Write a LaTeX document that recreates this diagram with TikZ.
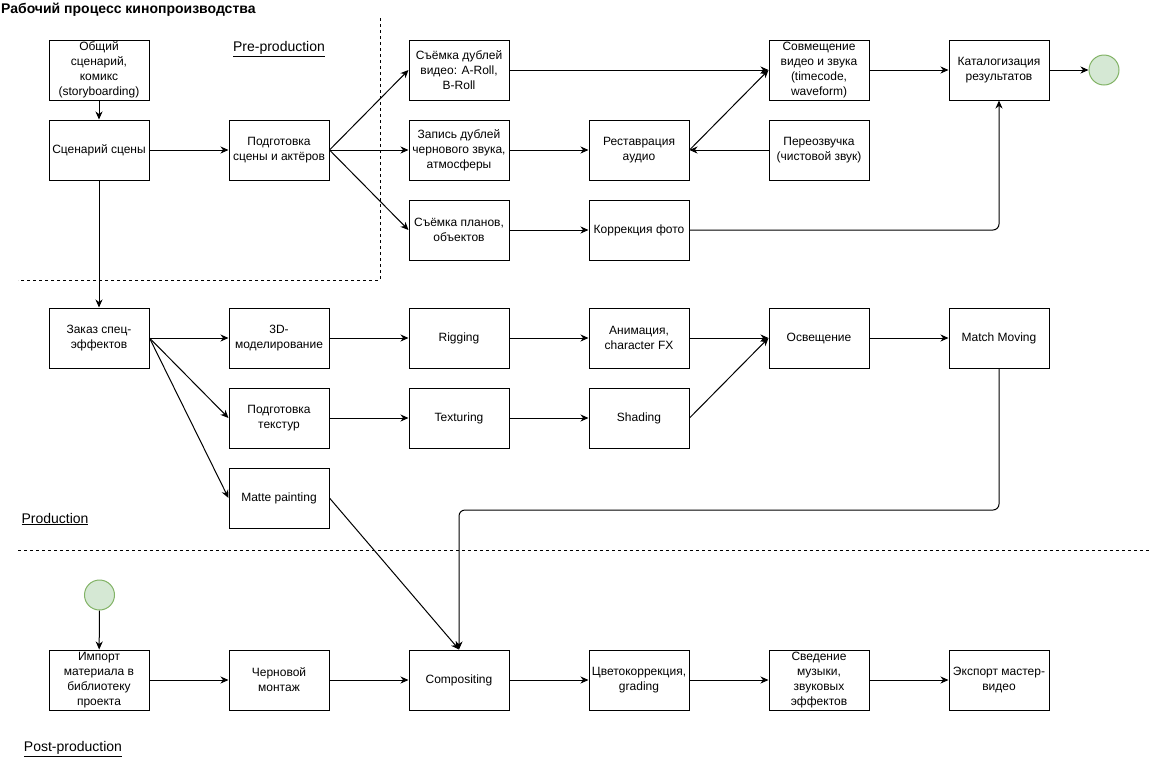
\documentclass[tikz,border=0pt]{standalone}
\usepackage{fontspec}
\setmainfont{Liberation Sans}
\usetikzlibrary{arrows.meta}
\begin{document}
\begin{tikzpicture}[x=1pt,y=-1pt,
  box/.style={draw=black, line width=1pt, minimum width=100pt, minimum height=60pt, inner sep=0pt, align=center, font=\fontsize{12}{15}\selectfont},
  term/.style={circle, draw={rgb,255:red,130;green,179;blue,102}, fill={rgb,255:red,213;green,232;blue,212}, line width=1pt, minimum size=30pt, inner sep=0pt},
  arr/.style={draw=black, line width=1pt, -{Stealth[length=8pt,width=7pt,inset=2.5pt]}},
  sep/.style={draw=black, line width=1pt, dash pattern=on 3pt off 3pt},
  lbl/.style={inner sep=0pt, font=\fontsize{14}{16}\selectfont},
  ttl/.style={inner sep=0pt, anchor=west, font=\fontsize{14}{16}\selectfont\bfseries}]
\useasboundingbox (0,0) rectangle (1151,761);

% separators
\draw[sep] (380,18) -- (380,280) -- (18,280);
\draw[sep] (18,550) -- (1150,550);

% labels
\node[ttl] (title) at (1,10) {Рабочий процесс кинопроизводства};
\node[lbl] (pre) at (279,49) {\underline{Pre-production}};
\node[lbl] (prod) at (55,519) {\underline{Production}};
\node[lbl] (post) at (73,749) {\underline{Post-production}};

% pre-production
\node[box] (a1) at (99,70) {Общий\\сценарий,\\комикс\\(storyboarding)};
\node[box] (a2) at (99,150) {Сценарий сцены};
\node[box] (b2) at (279,150) {Подготовка\\сцены и актёров};
\node[box] (c1) at (459,70) {Съёмка дублей\\видео: A-Roll,\\B-Roll};
\node[box] (c2) at (459,150) {Запись дублей\\чернового звука,\\атмосферы};
\node[box] (c3) at (459,230) {Съёмка планов,\\объектов};
\node[box] (d2) at (639,150) {Реставрация\\аудио};
\node[box] (d3) at (639,230) {Коррекция фото};
\node[box] (e1) at (819,70) {Совмещение\\видео и звука\\(timecode,\\waveform)};
\node[box] (e2) at (819,150) {Переозвучка\\(чистовой звук)};
\node[box] (f1) at (999,70) {Каталогизация\\результатов};
\node[term] (end1) at (1104,70) {};

% production
\node[box] (pa) at (99,338) {Заказ спец-\\эффектов};
\node[box] (pb1) at (279,338) {3D-\\моделирование};
\node[box] (pb2) at (279,418) {Подготовка\\текстур};
\node[box] (pb3) at (279,498) {Matte painting};
\node[box] (pc1) at (459,338) {Rigging};
\node[box] (pc2) at (459,418) {Texturing};
\node[box] (pd1) at (639,338) {Анимация,\\character FX};
\node[box] (pd2) at (639,418) {Shading};
\node[box] (pe1) at (819,338) {Освещение};
\node[box] (pf1) at (999,338) {Match Moving};

% post-production
\node[term] (start2) at (99.5,595) {};
\node[box] (q1) at (99,680) {Импорт\\материала в\\библиотеку\\проекта};
\node[box] (q2) at (279,680) {Черновой\\монтаж};
\node[box] (q3) at (459,680) {Compositing};
\node[box] (q4) at (639,680) {Цветокоррекция,\\grading};
\node[box] (q5) at (819,680) {Сведение\\музыки,\\звуковых\\эффектов};
\node[box] (q6) at (999,680) {Экспорт мастер-\\видео};

% edges pre-production
\draw[arr] (a1) -- (a2);
\draw[arr] (a2) -- (b2);
\draw[arr] (a2) -- (pa);
\draw[arr] (b2.east) -- (c1.west);
\draw[arr] (b2.east) -- (c2.west);
\draw[arr] (b2.east) -- (c3.west);
\draw[arr] (c1) -- (e1);
\draw[arr] (c2) -- (d2);
\draw[arr] (e2) -- (d2);
\draw[arr] (d2.east) -- (e1.west);
\draw[arr] (c3) -- (d3);
\draw[arr, rounded corners=6pt] (d3.east) -| (f1.south);
\draw[arr] (e1) -- (f1);
\draw[arr] (f1) -- (end1);

% edges production
\draw[arr] (pa) -- (pb1);
\draw[arr] (pa.east) -- (pb2.west);
\draw[arr] (pa.east) -- (pb3.west);
\draw[arr] (pb1) -- (pc1);
\draw[arr] (pc1) -- (pd1);
\draw[arr] (pd1) -- (pe1);
\draw[arr] (pe1) -- (pf1);
\draw[arr] (pb2) -- (pc2);
\draw[arr] (pc2) -- (pd2);
\draw[arr] (pd2.east) -- (pe1.west);
\coordinate (mmturn) at (999,510);
\draw[arr, rounded corners=6pt] (pf1.south) -- (mmturn) -| (q3.north);
\draw[arr] (pb3.east) -- (q3.north);

% edges post-production
\draw[arr] (start2) -- (q1);
\draw[arr] (q1) -- (q2);
\draw[arr] (q2) -- (q3);
\draw[arr] (q3) -- (q4);
\draw[arr] (q4) -- (q5);
\draw[arr] (q5) -- (q6);
\end{tikzpicture}
\end{document}
